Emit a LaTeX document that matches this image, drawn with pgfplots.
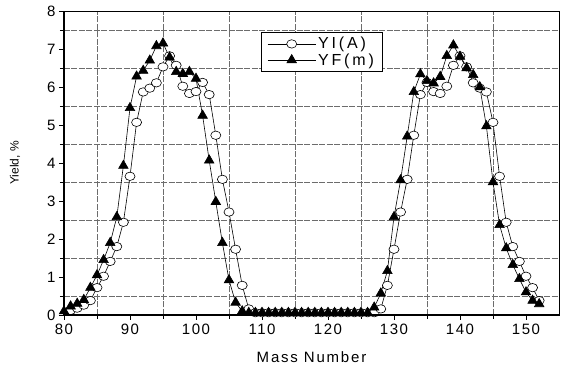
\documentclass[border=0pt]{standalone}
\usepackage{fontspec}
\setmainfont{Liberation Sans}
\newfontfamily\tickfont{Liberation Sans}[LetterSpace=10]
\newfontfamily\labfont{Liberation Sans}[LetterSpace=12]
\newfontfamily\legfont{Liberation Sans}[LetterSpace=18]
\usepackage{pgfplots}
\usepackage{pgfplotstable}
\pgfplotsset{compat=1.18}

\pgfplotstableread{
A Y
81 0.12
82 0.18
83 0.26
84 0.38
85 0.72
86 1.02
87 1.41
88 1.80
89 2.44
90 3.65
91 5.07
92 5.87
93 5.97
94 6.11
95 6.53
96 6.82
97 6.57
98 6.02
99 5.83
100 5.88
101 6.12
102 5.80
103 4.73
104 3.57
105 2.71
106 1.73
107 0.78
108 0.16
109 0.06
110 0.06
111 0.06
112 0.06
113 0.06
114 0.06
115 0.06
116 0.06
117 0.06
118 0.06
119 0.06
120 0.06
121 0.06
122 0.06
123 0.06
124 0.06
125 0.06
126 0.06
127 0.06
128 0.16
129 0.78
130 1.73
131 2.71
132 3.57
133 4.73
134 5.80
135 6.12
136 5.88
137 5.83
138 6.02
139 6.57
140 6.82
141 6.53
142 6.11
143 5.97
144 5.87
145 5.07
146 3.65
147 2.44
148 1.80
149 1.41
150 1.02
151 0.72
152 0.38
}\yitable

\pgfplotstableread{
A Y
80 0.10
81 0.23
82 0.30
83 0.40
84 0.72
85 1.05
86 1.45
87 1.90
88 2.58
89 3.93
90 5.45
91 6.28
92 6.43
93 6.70
94 7.08
95 7.15
96 6.78
97 6.40
98 6.35
99 6.40
100 6.22
101 5.25
102 4.07
103 2.98
104 1.90
105 0.92
106 0.33
107 0.10
108 0.06
109 0.06
110 0.06
111 0.06
112 0.06
113 0.06
114 0.06
115 0.06
116 0.06
117 0.06
118 0.06
119 0.06
120 0.06
121 0.06
122 0.06
123 0.06
124 0.06
125 0.06
126 0.06
127 0.20
128 0.57
129 1.16
130 2.58
131 3.55
132 4.70
133 5.87
134 6.34
135 6.16
136 6.10
137 6.27
138 6.82
139 7.10
140 6.80
141 6.50
142 6.32
143 6.00
144 4.97
145 3.50
146 2.37
147 1.76
148 1.32
149 0.95
150 0.60
151 0.38
152 0.29
}\yftable

\begin{document}
\begin{tikzpicture}
\useasboundingbox (-64pt,-57pt) rectangle (499pt,315pt);
\begin{axis}[
  at={(0pt,0pt)}, anchor=south west,
  scale only axis, width=495pt, height=304pt,
  xmin=80, xmax=155, ymin=0, ymax=8,
  xtick={80,90,...,150}, ytick={0,1,...,8},
  minor xtick={85,95,...,145}, minor ytick={0.5,1.5,...,7.5},
  xtick pos=left, ytick pos=left,
  tick align=outside,
  major tick length=5pt, minor tick length=4pt,
  every tick/.style={black, line width=0.8pt},
  grid=minor,
  minor grid style={gray!85!black, line width=0.6pt, dash pattern=on 6pt off 1.5pt},
  axis line style={black, line width=0.8pt},
  /pgf/number format/assume math mode=true,
  ticklabel style={font=\tickfont\fontsize{15}{17}\selectfont},
  xlabel={Mass Number},
  ylabel={Yield, \%},
  xlabel style={font=\labfont\fontsize{15}{17}\selectfont, at={(axis description cs:0.5,-0.138)}, anchor=center},
  ylabel style={font=\fontsize{12}{14}\selectfont, at={(axis description cs:-0.099,0.5)}, anchor=center},
  clip=false,
  legend style={at={(0.398,0.931)}, anchor=north west, draw=black, line width=0.8pt,
    font=\legfont\fontsize{16}{19}\selectfont, inner xsep=6pt, inner ysep=3pt, row sep=-1pt},
  legend cell align=left,
  legend image code/.code={\draw[mark repeat=2,mark phase=2,#1] plot coordinates {(0pt,0pt) (24pt,0pt) (48pt,0pt)};},
  after end axis/.code={\draw[black, line width=1.8pt] (rel axis cs:0,1) -- (rel axis cs:0,0) -- (rel axis cs:1,0);},
]
\addplot[black, line width=0.6pt, mark=*, mark size=4.2pt, mark options={fill=white, draw=black, line width=0.6pt, xscale=1.2, solid}] table[x=A, y=Y] {\yitable};
\addlegendentry{YI(A)}
\addplot[black, line width=0.6pt, mark=triangle*, mark size=5.5pt, mark options={fill=black, draw=black, solid}] table[x=A, y=Y] {\yftable};
\addlegendentry{YF(m)}
\end{axis}
\end{tikzpicture}
\end{document}
